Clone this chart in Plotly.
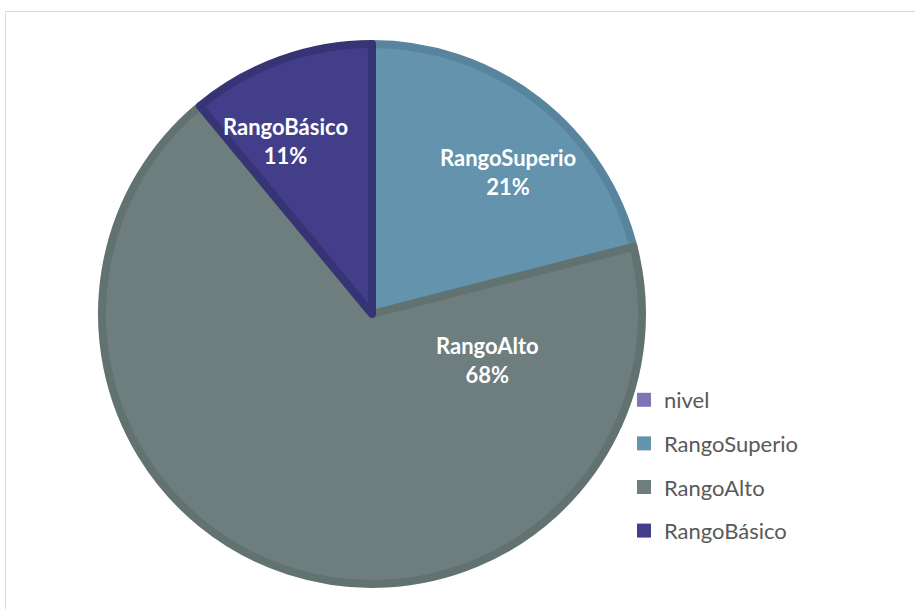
import plotly.graph_objects as go

# Distribution of students by performance range
labels = ["nivel", "RangoSuperio", "RangoAlto", "RangoBásico"]
values = [0, 21, 68, 11]
fill_colors = ["#7E74B6", "#6393AD", "#6E7E7F", "#433E8A"]
edge_colors = ["#6F66A6", "#58859D", "#627271", "#373476"]

W, H = 915, 609
cx, cy, r = 372, 314, 270  # pie centre and radius in pixels

total = sum(values)
pct = [round(v / total * 100) for v in values]

fig = go.Figure()

fig.add_trace(go.Pie(
    labels=labels,
    values=values,
    sort=False,
    direction="clockwise",
    rotation=0,
    textinfo="none",
    hoverinfo="label+percent",
    showlegend=False,
    marker=dict(colors=fill_colors, line=dict(color=edge_colors, width=8)),
    domain=dict(x=[(cx - r) / W, (cx + r) / W],
                y=[(H - cy - r) / H, (H - cy + r) / H]),
))

# Legend entries (one group each so the spacing can be widened)
for i, (lab, col) in enumerate(zip(labels, fill_colors)):
    fig.add_trace(go.Scatter(
        x=[None], y=[None], mode="markers", name=lab,
        legendgroup=f"g{i}",
        marker=dict(symbol="square", size=14, color=col),
    ))

# Slice labels placed the way the chart lays them out
label_pos = {
    "RangoSuperio": (508, 172),
    "RangoAlto": (487, 360),
    "RangoBásico": (285, 141),
}
annotations = []
for lab, p in zip(labels, pct):
    if lab not in label_pos:
        continue
    px, py = label_pos[lab]
    annotations.append(dict(
        x=px / W, y=1 - py / H, xref="paper", yref="paper",
        text=f"<b>{lab}<br>{p}%</b>", showarrow=False,
        font=dict(family="Lato", size=22, color="white"),
        align="center", xanchor="center", yanchor="middle",
    ))

fig.update_layout(
    width=W, height=H,
    margin=dict(l=0, r=0, t=0, b=0),
    paper_bgcolor="white",
    plot_bgcolor="rgba(0,0,0,0)",
    xaxis=dict(visible=False),
    yaxis=dict(visible=False),
    annotations=annotations,
    legend=dict(
        x=624 / W, y=1 - 379 / H, xanchor="left", yanchor="top",
        font=dict(family="Lato", size=22, color="#595959"),
        traceorder="grouped", tracegroupgap=12,
        bgcolor="rgba(0,0,0,0)",
    ),
    shapes=[dict(
        type="rect", xref="paper", yref="paper",
        x0=5.5 / W, x1=1.05, y0=-0.05, y1=1 - 11.5 / H,
        line=dict(color="#D9D9D9", width=1), fillcolor="rgba(0,0,0,0)",
        layer="below",
    )],
)

fig.write_html("out.html")
